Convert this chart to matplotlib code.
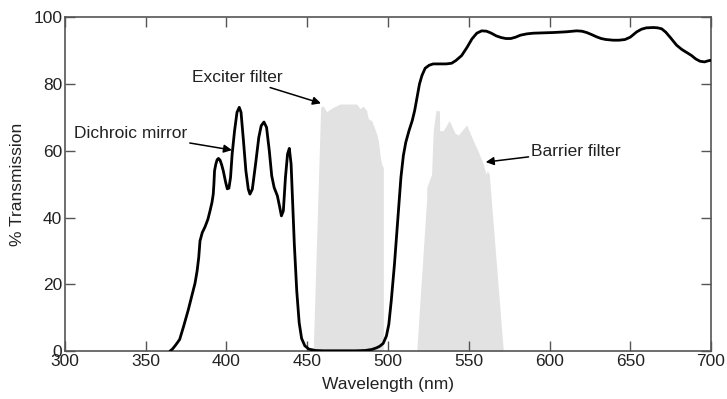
import numpy as np
import matplotlib
matplotlib.use("Agg")
import matplotlib.pyplot as plt

plt.rcParams['font.family'] = ['Liberation Sans', 'DejaVu Sans']

# dichroic mirror transmission curve
mirror_wl = [365, 366.5, 368.5, 371, 373.5, 376.3, 378.5, 380.5, 381.8, 382.8, 383.6, 385, 386.7,
             388.5, 389.8, 391, 391.8, 392.2, 392.6, 393.4, 394.2, 395, 396, 397, 398, 399.5,
             400.5, 401.5, 402.5, 403.5, 405, 406.5, 407.9, 409, 410.5, 412, 413.5, 414.5,
             416, 418, 420, 421.5, 423.2, 424.8, 426.5, 428, 429.5, 431.5, 433, 434, 435.2,
             436.5, 437.8, 438.9, 440, 441, 442, 443.5, 445, 446.5, 448.5, 451, 455, 460,
             470, 480, 486, 490, 493, 495, 497, 499, 500.5, 502, 504, 506, 508, 509.5, 511,
             513, 515, 516.5, 518, 519.5, 521, 523, 525.5, 528, 532, 536, 539.4, 542, 545.6,
             549, 552, 555, 558, 561, 564, 567, 570, 573, 576, 579, 582, 586, 590, 596, 602.4,
             610, 616.8, 620, 623, 626, 629.2, 632, 635, 639.5, 643, 646.7, 650, 654, 657,
             660, 664.3, 667, 669.5, 672, 675, 678.7, 682, 685, 688, 690.5, 693.2, 696, 698, 700]
mirror_t = [0, 0.6, 1.8, 3.5, 7.5, 12.3, 16.5, 20.3, 24, 28, 33, 35.5, 37.2,
            39.5, 42, 44.5, 47, 50, 54, 56, 57.3, 57.7, 57.2, 55.8, 54, 50.5,
            48.6, 48.8, 52, 59, 66, 71.5, 73, 71.5, 63, 54, 48.5, 47,
            48.5, 56, 64, 67.5, 68.6, 67, 60, 52.5, 49, 46.5, 43, 40.5, 42,
            52, 59, 60.7, 56, 44, 32, 18, 8.5, 3.8, 1.6, 0.6, 0.2, 0.1,
            0.1, 0.1, 0.2, 0.5, 1.0, 1.5, 2.3, 4.5, 8, 15, 26, 39, 52, 58.5, 62.5,
            66, 69, 72, 76, 80, 82.5, 84.7, 85.6, 86, 86, 86, 86.2, 87, 88.5,
            91, 93.5, 95.2, 95.9, 95.8, 95.2, 94.4, 93.9, 93.6, 93.6, 94, 94.6, 95, 95.2, 95.3, 95.4,
            95.6, 95.9, 95.8, 95.4, 94.8, 94.1, 93.6, 93.3, 93.1, 93.1, 93.3, 94, 95.6, 96.4,
            96.8, 96.9, 96.8, 96.5, 95.5, 93.8, 91.6, 90.3, 89.4, 88.5, 87.5, 86.8, 86.6, 86.9, 87.1]

# exciter filter (grey band)
exciter_wl = [453.7, 458.3, 459.7, 462, 466, 470.3, 480.6, 482.7, 484.7, 486.8, 487.8, 489.9,
              491.5, 493, 494, 495, 496, 497.1, 497.1]
exciter_t = [0, 73, 73.5, 71.7, 73, 74, 74, 72.6, 73.4, 72, 69.6, 69,
             67, 65, 63, 59, 56, 55, 0]

# barrier filter (grey band)
barrier_wl = [517.8, 524, 524, 527, 528, 529.7, 531.8, 532, 534.2, 537.9, 541.5, 543.5, 548.7,
              552.8, 555.9, 559, 560.7, 561.5, 562.7, 571.4]
barrier_t = [0, 46, 49, 53, 66, 72, 72, 66, 66, 69, 65.3, 64.7, 67.7,
             63, 59.7, 56, 53, 54, 53, 0]

fig = plt.figure(figsize=(7.27, 3.99), dpi=100)
ax = fig.add_axes([0.0894, 0.120, 0.8886, 0.837])

grey = '#e2e2e2'
ax.fill_between(exciter_wl, exciter_t, 0, color=grey, lw=0, zorder=1)
ax.fill_between(barrier_wl, barrier_t, 0, color=grey, lw=0, zorder=1)
ax.plot(mirror_wl, mirror_t, color='black', lw=2.0, zorder=3,
        solid_joinstyle='round', solid_capstyle='round')

ax.set_xlim(300, 700)
ax.set_ylim(0, 100)
ax.set_xticks(np.arange(300, 701, 50))
ax.set_yticks(np.arange(0, 101, 20))
ax.tick_params(direction='in', top=True, right=True, length=7, width=1,
               color='#555555', labelsize=12.5, labelcolor='#222222', pad=2)
for s in ax.spines.values():
    s.set_color('#555555')
    s.set_linewidth(1.2)
ax.set_xlabel('Wavelength (nm)', fontsize=12.5, color='#222222', labelpad=6)
ax.set_ylabel('% Transmission', fontsize=12.5, color='#222222', labelpad=6)

arrow = dict(arrowstyle='-|>', color='black', lw=1.1, mutation_scale=12,
             shrinkA=0, shrinkB=0)
ax.annotate('Exciter filter', xy=(458.5, 74.2), xytext=(406.5, 82),
            ha='center', va='center', fontsize=12.5, color='#222222',
            arrowprops=arrow, zorder=5)
ax.annotate('Dichroic mirror', xy=(403.4, 60.2), xytext=(340.5, 65.3),
            ha='center', va='center', fontsize=12.5, color='#222222',
            arrowprops=arrow, zorder=5)
ax.annotate('Barrier filter', xy=(560.5, 56.6), xytext=(616.5, 59.9),
            ha='center', va='center', fontsize=12.5, color='#222222',
            arrowprops=arrow, zorder=5)

fig.savefig('out.png', dpi=100)
